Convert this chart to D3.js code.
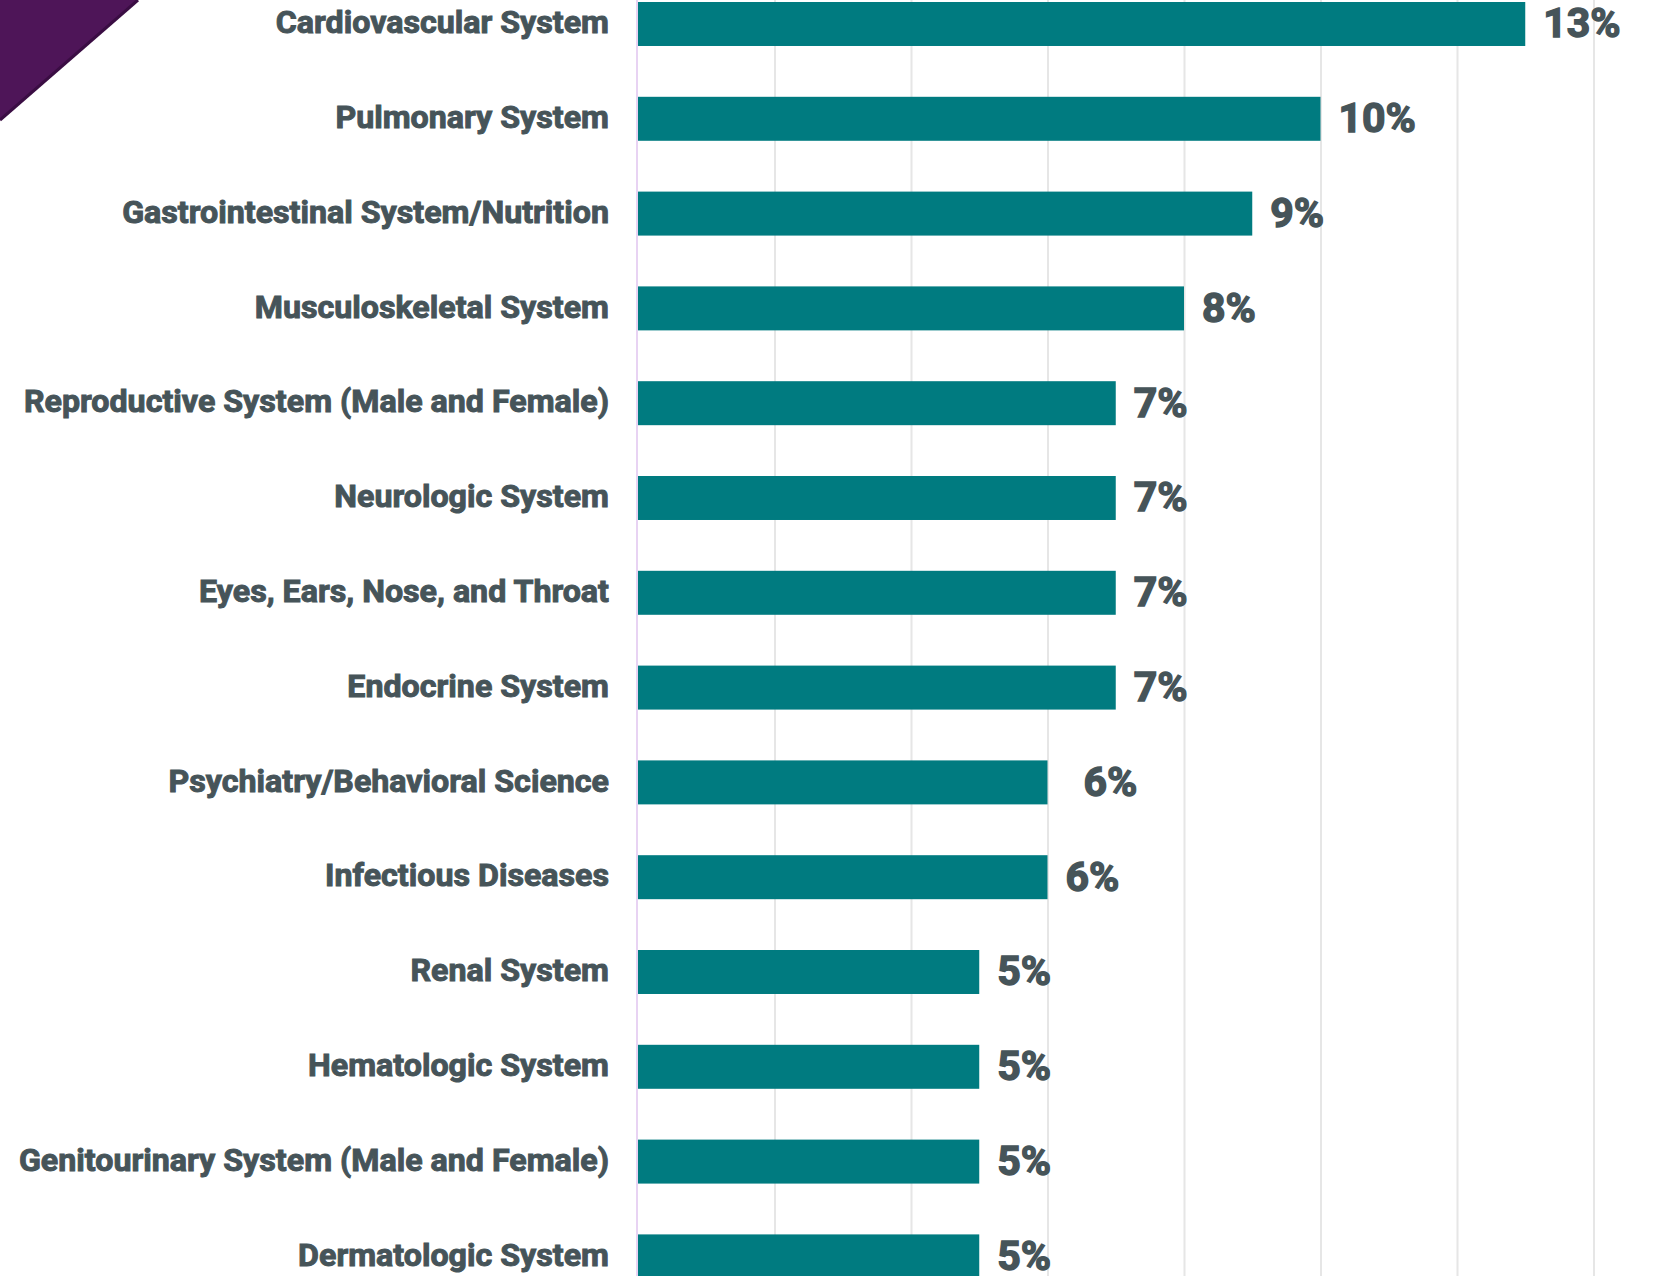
<!DOCTYPE html>
<html>
<head>
<meta charset="utf-8">
<script src="https://cdn.jsdelivr.net/npm/d3@7"></script>
<style>
  html, body { margin: 0; padding: 0; background: #fff; overflow: hidden; }
  .cat { font-family: Roboto, "Noto Sans", sans-serif; font-weight: 700; fill: #465459; stroke: #465459; stroke-width: 1px; }
  .val { font-family: Roboto, "Noto Sans", sans-serif; font-weight: 700; fill: #465459; stroke: #465459; stroke-width: 1.4px; }
</style>
</head>
<body>
<div id="chart"></div>
<script>
      // categories and their share of exam content (%)
      var categories = [
        "Cardiovascular System",
        "Pulmonary System",
        "Gastrointestinal System/Nutrition",
        "Musculoskeletal System",
        "Reproductive System (Male and Female)",
        "Neurologic System",
        "Eyes, Ears, Nose, and Throat",
        "Endocrine System",
        "Psychiatry/Behavioral Science",
        "Infectious Diseases",
        "Renal System",
        "Hematologic System",
        "Genitourinary System (Male and Female)",
        "Dermatologic System"
      ];
      var values = [13, 10, 9, 8, 7, 7, 7, 7, 6, 6, 5, 5, 5, 5];
      var valueLabels = ["13%", "10%", "9%", "8%", "7%", "7%", "7%", "7%", "6%", "6%", "5%", "5%", "5%", "5%"];
      var gridTicks = [2, 4, 6, 8, 10, 12, 14];

      var W = 1655, H = 1276;

      var svg = d3.select("#chart").append("svg")
          .attr("width", W)
          .attr("height", H);

      ////// Scales /////////////////
      var xScale = d3.scaleLinear()
          .domain([0, 14])
          .range([638, 1593.5]);

      var step = 94.8, pad = 0.536;
      var yScale = d3.scaleBand()
          .domain(categories)
          .range([2 - step * pad, 2 - step * pad + step * (categories.length + pad)])
          .paddingInner(pad)
          .paddingOuter(pad);

      // corner decoration
      svg.append("path")
          .attr("d", "M0,0 L138,0 L0,120 Z")
          .attr("fill", "#4e1558");
      svg.append("line")
          .attr("x1", 138).attr("y1", 0)
          .attr("x2", 0).attr("y2", 120)
          .attr("stroke", "#3a0d43")
          .attr("stroke-width", 3);

      // vertical grid
      var xGrid = d3.axisBottom(xScale)
          .tickValues(gridTicks)
          .tickSize(-H)
          .tickFormat("");
      svg.append("g")
          .attr("class", "x axis-grid")
          .attr("transform", "translate(0," + H + ")")
          .call(xGrid)
          .call(function(g) {
            g.select(".domain").remove();
            g.selectAll("line").attr("stroke", "#e6e6e6").attr("stroke-width", 2);
          });

      // baseline (y axis)
      svg.append("line")
          .attr("x1", xScale(0) - 1).attr("x2", xScale(0) - 1)
          .attr("y1", 0).attr("y2", H)
          .attr("stroke", "#e8d3f3")
          .attr("stroke-width", 2);

      var rows = categories.map(function(c, i) {
        return { cat: c, v: values[i], label: valueLabels[i], i: i };
      });

      // bars
      svg.append("g")
          .selectAll("rect")
          .data(rows)
          .enter()
          .append("rect")
          .attr("x", xScale(0))
          .attr("y", function(d) { return yScale(d.cat); })
          .attr("width", function(d) { return xScale(d.v) - xScale(0); })
          .attr("height", yScale.bandwidth())
          .attr("fill", "#007b80");

      // category labels
      svg.append("g")
          .selectAll("text")
          .data(rows)
          .enter()
          .append("text")
          .attr("class", "cat")
          .attr("x", 609)
          .attr("y", function(d) { return yScale(d.cat) + yScale.bandwidth() / 2 - 2; })
          .attr("dy", "0.35em")
          .attr("text-anchor", "end")
          .style("font-size", "32.2px")
          .text(function(d) { return d.cat; });

      // value labels
      svg.append("g")
          .selectAll("text")
          .data(rows)
          .enter()
          .append("text")
          .attr("class", "val")
          .attr("x", function(d) { return xScale(d.v) + (d.i == 8 ? 36 : 18); })
          .attr("y", function(d) { return yScale(d.cat) + yScale.bandwidth() / 2 - 1; })
          .attr("dy", "0.35em")
          .style("font-size", "41px")
          .text(function(d) { return d.label; });
</script>
</body>
</html>
